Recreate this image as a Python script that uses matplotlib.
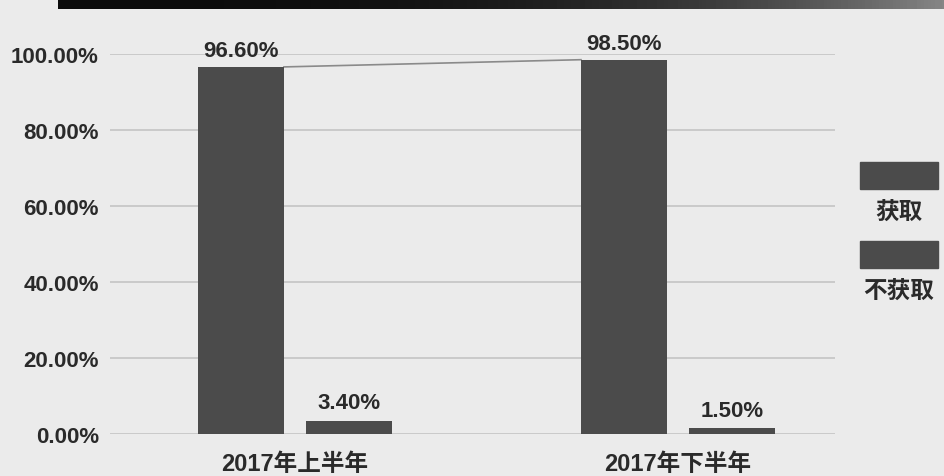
import numpy as np
import matplotlib
matplotlib.use("Agg")
import matplotlib.pyplot as plt
from matplotlib.patches import Rectangle

# ============================================================
# DATA
# ============================================================
periods = ["2017年上半年", "2017年下半年"]
series_names = ["获取", "不获取"]
got = [96.60, 98.50]
not_got = [3.40, 1.50]
y_ticks = [0, 20, 40, 60, 80, 100]

plt.rcParams['font.family'] = ['Liberation Sans', 'Noto Sans CJK SC', 'DejaVu Sans']
plt.rcParams['font.weight'] = 'bold'

BG = "#ebebeb"
BAR = "#4b4b4b"
TXT = "#2a2a2a"

fig = plt.figure(figsize=(9.45, 4.77), dpi=100)
fig.patch.set_facecolor(BG)

# dark gradient banner across the top
ban = fig.add_axes([58 / 945, 1 - 10 / 477, 1 - 58 / 945, 10 / 477])
grad = np.linspace(0, 1, 256).reshape(1, -1)
ban.imshow(grad ** 3, aspect="auto", cmap="gray", vmin=-0.1, vmax=2.0)
ban.axis("off")

# main axes
ax = fig.add_axes([110 / 945, 1 - 435 / 477, 725 / 945, 380 / 477])
ax.set_facecolor(BG)
x = np.arange(len(periods))
w = 0.2245
off = 0.141
ax.bar(x - off, got, w, color=BAR, zorder=3)
ax.bar(x + off, not_got, w, color=BAR, zorder=3)

# thin line joining the tops of the "获取" bars
ax.plot([x[0] - off + w / 2, x[1] - off - w / 2], got, color="#8a8a8a", lw=1.2, zorder=2)

for xi, v in zip(x - off, got):
    ax.text(xi, v + 1.5, f"{v:.2f}%", ha="center", va="bottom", fontsize=16, color=TXT)
for xi, v in zip(x + off, not_got):
    ax.text(xi, v + 2.0, f"{v:.2f}%", ha="center", va="bottom", fontsize=16, color=TXT)

ax.set_xlim(-0.483, 1.41)
ax.set_ylim(0, 100)
ax.set_yticks(y_ticks)
ax.set_yticklabels([f"{t:.2f}%" for t in y_ticks], fontsize=16, color=TXT)
ax.set_xticks(x)
ax.set_xticklabels(periods, fontsize=17, color=TXT)
ax.tick_params(axis="y", length=0, pad=8)
ax.tick_params(axis="x", length=0, pad=13)
ax.grid(axis="y", color="#c4c4c4", lw=1.2, zorder=0)
for s in ax.spines.values():
    s.set_visible(False)

# legend: swatch above label
for i, name in enumerate(series_names):
    top = 163 + i * 79
    fig.add_artist(Rectangle((860 / 945, 1 - (top + 27) / 477), 78 / 945, 27 / 477,
                             transform=fig.transFigure, color=BAR))
    fig.text(899 / 945, 1 - (top + 49) / 477, name, ha="center", va="center",
             fontsize=17, color=TXT)

plt.savefig("out.png", dpi=100, facecolor=BG)
